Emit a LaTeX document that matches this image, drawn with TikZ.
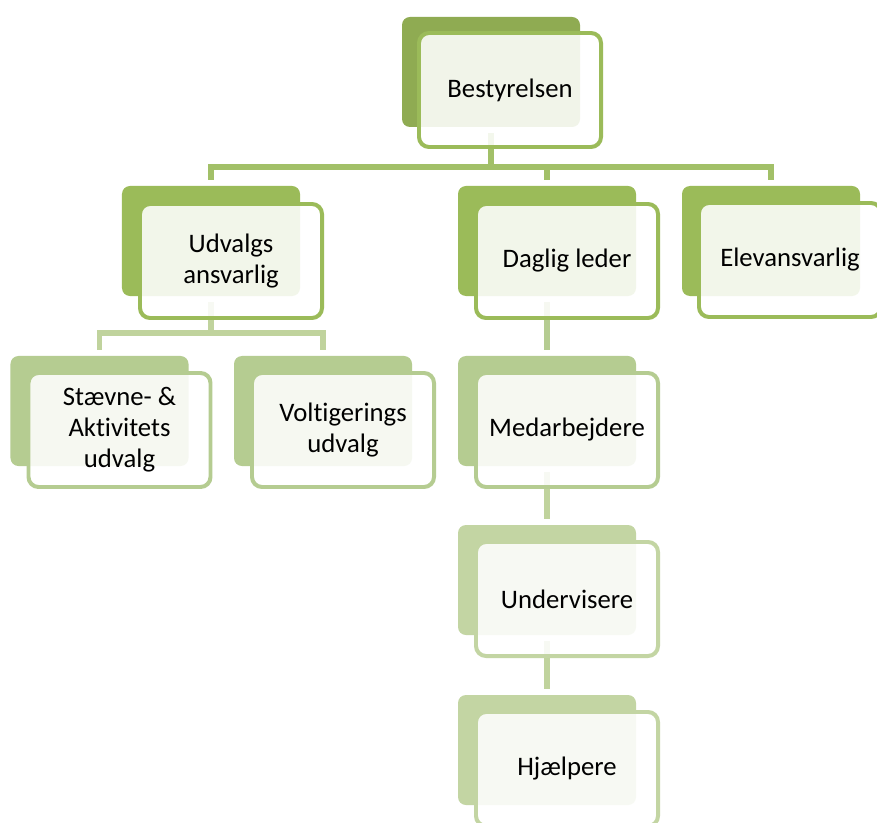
\documentclass[tikz,border=0pt]{standalone}
\usepackage{fontspec}
\setmainfont[Ligatures=NoCommon]{Carlito}
\pgfdeclarelayer{bg}
\pgfsetlayers{bg,main}
\definecolor{topgreen}{RGB}{143,171,82}
\definecolor{midgreen}{RGB}{155,187,89}
\definecolor{lowgreen}{RGB}{181,204,145}
\definecolor{paleg}{RGB}{195,213,163}
\definecolor{linkA}{RGB}{162,192,104}
\definecolor{linkB}{RGB}{192,211,157}
\tikzset{
  back/.style={fill=#1, rounded corners=0.24cm, minimum width=5.34cm,
    minimum height=3.3cm, inner sep=0pt},
  front/.style={draw=#1, line width=3.4pt, fill=white, fill opacity=0.88,
    text opacity=1, rounded corners=0.3cm, minimum width=5.46cm,
    minimum height=3.42cm, align=center,
    font=\fontsize{22.8}{26.5}\selectfont},
  link/.style={draw=#1, line width=4.5pt, shorten <=0.18cm, shorten >=0.18cm}
}
\begin{document}
\begin{tikzpicture}[x=0.03cm,y=-0.03cm]
  \useasboundingbox (0,0) rectangle (877,823);
  \clip (0,0) rectangle (877,823);
  % boards
  \node[back=topgreen] (best) at (491,72) {};
  \node[front=midgreen] (bestF) at (510,90) {Bestyrelsen};
  \node[back=midgreen] (udv) at (211,241) {};
  \node[front=midgreen] (udvF) at (231,261) {Udvalgs\\ansvarlig};
  \node[back=midgreen] (dag) at (547,241) {};
  \node[front=midgreen] (dagF) at (567,261) {Daglig leder};
  \node[back=midgreen] (elev) at (771,241) {};
  \node[front=midgreen] (elevF) at (790,260) {Elevansvarlig};
  \node[back=lowgreen] (stae) at (99.5,411) {};
  \node[front=lowgreen] (staeF) at (119.5,430) {Stævne- \&\\Aktivitets\\udvalg};
  \node[back=lowgreen] (volt) at (323,411) {};
  \node[front=lowgreen] (voltF) at (343,430) {Voltigerings\\udvalg};
  \node[back=lowgreen] (med) at (547,411) {};
  \node[front=lowgreen] (medF) at (567,430) {Medarbejdere};
  \node[back=paleg] (und) at (547,580) {};
  \node[front=paleg] (undF) at (567,599) {Undervisere};
  \node[back=paleg] (hjae) at (547,750) {};
  \node[front=paleg] (hjaeF) at (567,769) {Hjælpere};
  \coordinate (j1) at (491,167);
  \coordinate (j2) at (211,333);
  % connectors
  \begin{pgfonlayer}{bg}
    \fill[white] (0,0) rectangle (877,823);
    \draw[link=linkA, shorten >=0pt] (best.south) -- (j1);
    \draw[link=linkA, shorten <=0pt] (j1) -| (udv.north);
    \draw[link=linkA, shorten <=0pt] (j1) -| (dag.north);
    \draw[link=linkA, shorten <=0pt] (j1) -| (elev.north);
    \draw[link=linkB, shorten >=0pt] (udv.south) -- (j2);
    \draw[link=linkB, shorten <=0pt] (j2) -| (stae.north);
    \draw[link=linkB, shorten <=0pt] (j2) -| (volt.north);
    \draw[link=lowgreen] (dag) -- (med);
    \draw[link=linkB] (med) -- (und);
    \draw[link=linkB] (und) -- (hjae);
  \end{pgfonlayer}
\end{tikzpicture}
\end{document}
